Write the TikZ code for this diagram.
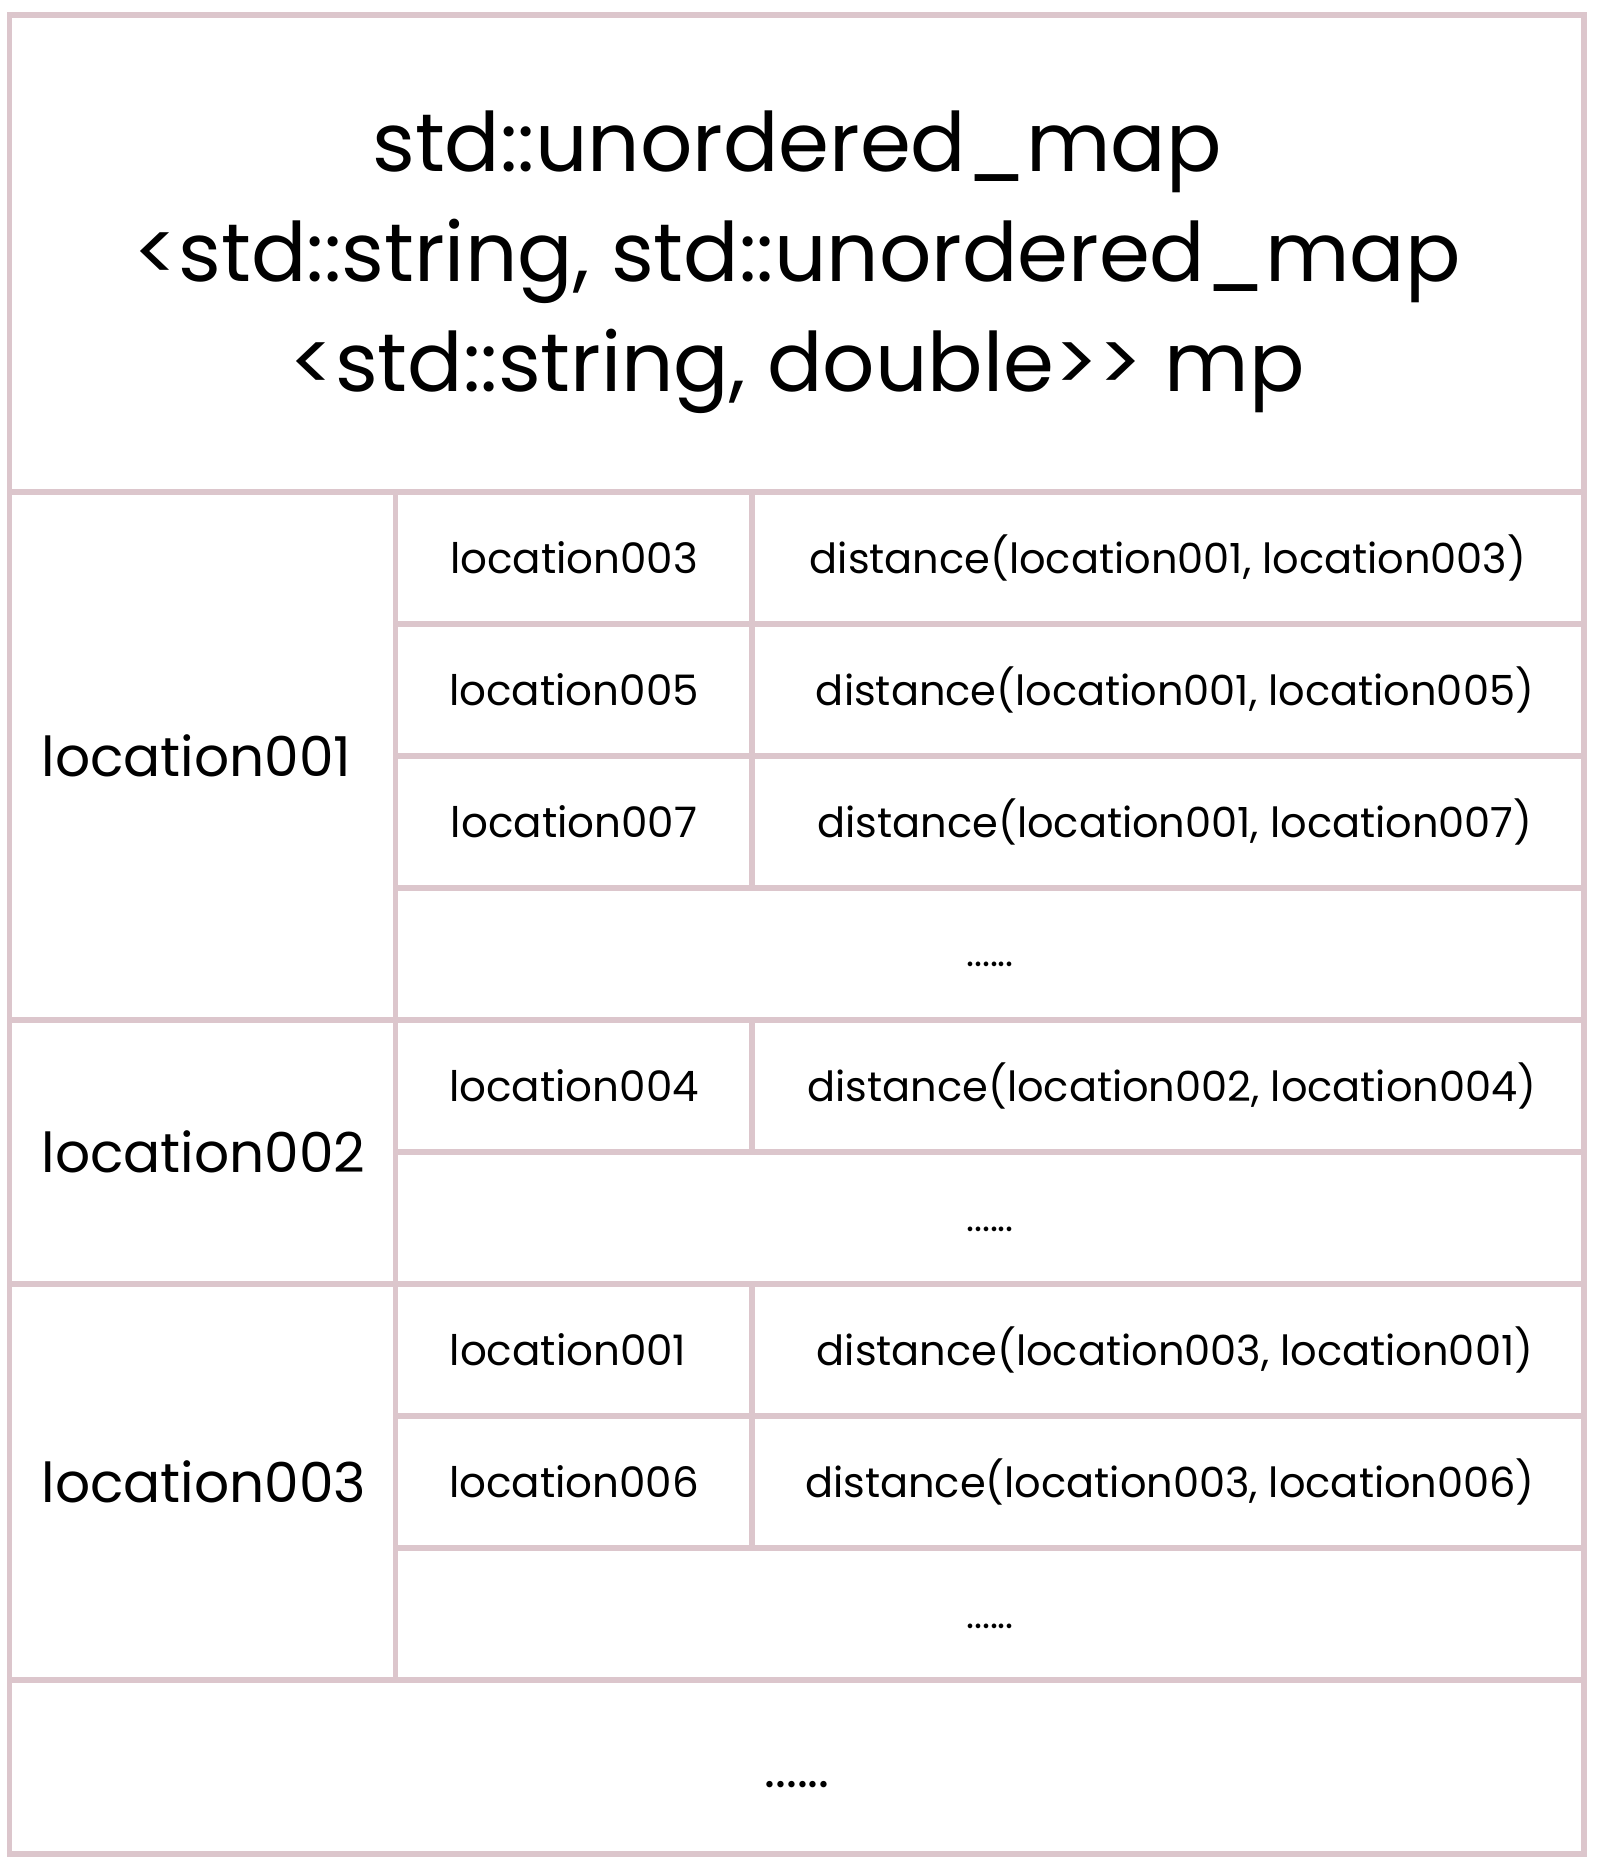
\documentclass[tikz,border=0pt]{standalone}
\usepackage{fontspec}
\setmainfont{Poppins}
\usetikzlibrary{positioning}
\definecolor{gridpink}{RGB}{220,198,204}

\begin{document}
\begin{tikzpicture}[x=1pt,y=-1pt,
  grid/.style={draw=gridpink, line width=5.5pt},
  title/.style={font=\fontsize{82}{110}\selectfont, align=center},
  outerkey/.style={font=\fontsize{55}{64}\selectfont, anchor=west},
  innerkey/.style={font=\fontsize{42}{50}\selectfont},
  innerval/.style={font=\fontsize{41.5}{50}\selectfont},
  dots/.style={font=\fontsize{38}{44}\selectfont},
  bigdots/.style={font=\fontsize{52}{58}\selectfont},
]
  \useasboundingbox (0,0) rectangle (1611,1874);
  % grid
  \draw[grid] (9.5,15) rectangle (1584,1854);
  \foreach \y in {492,1020,1284,1680}
    \draw[grid] (9.5,\y) -- (1584,\y);
  \foreach \y in {624,756,888,1152,1416,1548}
    \draw[grid] (395.5,\y) -- (1584,\y);
  \draw[grid] (395.5,492) -- (395.5,1680);
  \draw[grid] (752,492) -- (752,888);
  \draw[grid] (752,1020) -- (752,1152);
  \draw[grid] (752,1284) -- (752,1548);

  % header
  \node[title] (head) at (797,262)
    {std::unordered\_map\\<std::string, std::unordered\_map\\<std::string, double>{}> mp};

  % outer keys
  \node[outerkey] (loc1) at (38,756) {location001};
  \node[outerkey] (loc2) at (38,1152) {location002};
  \node[outerkey] (loc3) at (38,1482) {location003};

  % inner keys and values
  \node[innerkey] (k13) at (574,558) {location003};
  \node[innerval] (v13) at (1168,558) {distance(location001, location003)};
  \node[innerkey] (k15) at (574,690) {location005};
  \node[innerval] (v15) at (1175,690) {distance(location001, location005)};
  \node[innerkey] (k17) at (574,822) {location007};
  \node[innerval] (v17) at (1175,822) {distance(location001, location007)};
  \node[dots] (d1) at (990,964) {......};
  \node[innerkey] (k24) at (574,1086) {location004};
  \node[innerval] (v24) at (1172,1086) {distance(location002, location004)};
  \node[dots] (d2) at (990,1229) {......};
  \node[innerkey] (k31) at (568,1350) {location001};
  \node[innerval] (v31) at (1175,1350) {distance(location003, location001)};
  \node[innerkey] (k36) at (574,1482) {location006};
  \node[innerval] (v36) at (1170,1482) {distance(location003, location006)};
  \node[dots] (d3) at (990,1626) {......};
  \node[bigdots] (d4) at (797,1785) {......};
\end{tikzpicture}
\end{document}
